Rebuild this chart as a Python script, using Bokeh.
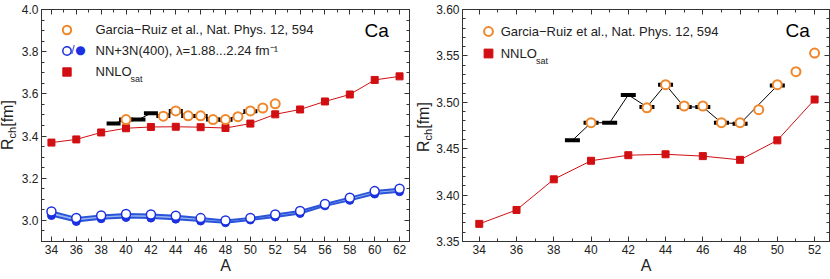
from bokeh.plotting import figure
from bokeh.models import (Range1d, LinearAxis, SingleIntervalTicker, PrintfTickFormatter,
                          CustomJSTickFormatter, Label, Legend, LegendItem, Div)
from bokeh.layouts import row
from bokeh.embed import file_html
from bokeh.resources import INLINE

# ---------------- data ----------------
A_theory = [34, 36, 38, 40, 42, 44, 46, 48, 50, 52, 54, 56, 58, 60, 62]
R_nnlosat = [3.369, 3.384, 3.417, 3.437, 3.443, 3.444, 3.442, 3.438, 3.459, 3.503,
             3.526, 3.564, 3.597, 3.666, 3.683]
R_nn3n_open = [3.042, 3.012, 3.023, 3.030, 3.028, 3.022, 3.011, 3.000, 3.012, 3.028,
               3.045, 3.078, 3.108, 3.139, 3.150]
R_nn3n_filled = [3.023, 2.995, 3.008, 3.014, 3.011, 3.006, 2.997, 2.989, 3.002, 3.016,
                 3.033, 3.069, 3.095, 3.125, 3.136]

A_exp = [40, 43, 44, 45, 46, 47, 48, 49, 50, 51, 52]
R_exp = [3.478, 3.494, 3.519, 3.496, 3.496, 3.478, 3.478, 3.492, 3.519, 3.533, 3.553]
R_exp_err = [0.001, 0.002, 0.002, 0.002, 0.002, 0.002, 0.002, 0.003, 0.003, 0.004, 0.0055]

A_bar = [39, 40, 41, 42, 43, 44, 45, 46, 47, 48, 50]
R_bar = [3.459, 3.478, 3.478, 3.508, 3.495, 3.519, 3.495, 3.495, 3.478, 3.477, 3.518]

# ---------------- style ----------------
FONT = "Liberation Sans"
ORANGE = "#f0872a"
RED = "#d10f12"
BLUE = "#1b30e0"
BLUE_LINE = "#2b55d8"
FRAME = "#333333"
TXT = "#222222"
H = 279

exp_lo = [r - e for r, e in zip(R_exp, R_exp_err)]
exp_hi = [r + e for r, e in zip(R_exp, R_exp_err)]


def style_axis(ax, show_labels=True):
    ax.axis_line_color = FRAME
    ax.major_tick_line_color = FRAME
    ax.minor_tick_line_color = FRAME
    ax.major_tick_in = 5
    ax.major_tick_out = 0
    ax.minor_tick_in = 3
    ax.minor_tick_out = 0
    if show_labels:
        ax.major_label_text_font = FONT
        ax.major_label_text_font_size = "12px"
        ax.major_label_text_color = TXT
        ax.major_label_standoff = 3
    else:
        ax.formatter = CustomJSTickFormatter(code="return ''")
        ax.major_label_text_font_size = "1px"
        ax.major_label_standoff = 0


def make_fig(width, xr, yr, bl, br, bb, bt, yint, yminor, yfmt):
    p = figure(width=width, height=H, x_range=Range1d(*xr), y_range=Range1d(*yr),
               output_backend="svg", toolbar_location=None,
               min_border_left=bl, min_border_right=br, min_border_bottom=bb,
               min_border_top=bt)
    p.xgrid.visible = False
    p.ygrid.visible = False
    p.outline_line_color = FRAME
    p.background_fill_color = "white"
    p.border_fill_color = "white"

    p.xaxis[0].ticker = SingleIntervalTicker(interval=2, num_minor_ticks=2)
    p.yaxis[0].ticker = SingleIntervalTicker(interval=yint, num_minor_ticks=yminor)
    p.yaxis[0].formatter = PrintfTickFormatter(format=yfmt)
    style_axis(p.xaxis[0])
    style_axis(p.yaxis[0])
    p.xaxis[0].axis_label = "A"
    p.xaxis[0].axis_label_text_font = FONT
    p.xaxis[0].axis_label_text_font_size = "16px"
    p.xaxis[0].axis_label_text_font_style = "normal"
    p.xaxis[0].axis_label_text_color = TXT
    p.xaxis[0].axis_label_standoff = 0

    top = LinearAxis(ticker=SingleIntervalTicker(interval=2, num_minor_ticks=2))
    style_axis(top, show_labels=False)
    p.add_layout(top, "above")
    right = LinearAxis(ticker=SingleIntervalTicker(interval=yint, num_minor_ticks=yminor))
    style_axis(right, show_labels=False)
    p.add_layout(right, "right")
    return p


def label_strip(width, left, top):
    """Narrow HTML strip holding the rotated y-axis title R_ch[fm]."""
    html = (
        f'<div style="position:relative;width:{width}px;height:{H}px;overflow:visible;">'
        f'<div style="position:absolute;left:{left}px;top:{top}px;transform-origin:0 0;'
        "transform:rotate(-90deg);white-space:nowrap;font-family:'Liberation Sans';"
        f'font-size:16px;line-height:16px;color:{TXT};">'
        'R<span style="font-size:11px;position:relative;top:3px;">ch</span>[fm]'
        '</div></div>'
    )
    return Div(text=html, width=width, height=H, margin=(0, 0, 0, 0))


def style_legend(leg, gw, standoff):
    leg.background_fill_alpha = 0
    leg.border_line_alpha = 0
    leg.padding = 0
    leg.margin = 0
    leg.spacing = 0
    leg.glyph_width = gw
    leg.glyph_height = gw
    leg.label_height = gw
    leg.label_standoff = standoff
    leg.label_text_font = FONT
    leg.label_text_font_size = "13px"
    leg.label_text_color = TXT


# ================= left panel =================
s1 = label_strip(17, 0, 150)
p1 = make_fig(401, (33.2, 62.8), (2.9, 4.0), 24, 9, 38, 6, 0.2, 4, "%.1f")

p1.varea(x=A_theory, y1=R_nn3n_filled, y2=R_nn3n_open, fill_color="#7fa2ee", fill_alpha=0.8)
p1.line(A_theory, R_nn3n_filled, line_color=BLUE_LINE, line_width=2)
p1.line(A_theory, R_nn3n_open, line_color=BLUE_LINE, line_width=2)
p1.scatter(A_theory, R_nn3n_filled, marker="circle", size=8, fill_color=BLUE,
           line_color=BLUE)
r_open1 = p1.scatter(A_theory, R_nn3n_open, marker="circle", size=9, fill_color="white",
                     line_color=BLUE, line_width=1.5)

p1.line(A_theory, R_nnlosat, line_color=RED, line_width=1)
r_sat1 = p1.scatter(A_theory, R_nnlosat, marker="square", size=7, fill_color=RED,
                    line_color=RED)

p1.line(A_bar, R_bar, line_color="black", line_width=1)
p1.scatter(A_bar, R_bar, marker="dash", size=14, line_color="black", line_width=4)
p1.segment(x0=A_exp, y0=exp_lo, x1=A_exp, y1=exp_hi, line_color="#555555", line_width=1)
r_exp1 = p1.scatter(A_exp, R_exp, marker="circle", size=9, fill_color="white",
                    line_color=ORANGE, line_width=2)

leg1 = Legend(items=[
    LegendItem(label="Garcia\u2212Ruiz et al., Nat. Phys. 12, 594", renderers=[r_exp1]),
    LegendItem(label="NN+3N(400), \u03bb=1.88...2.24 fm\u207b\u00b9", renderers=[r_open1]),
    LegendItem(label="NNLO", renderers=[r_sat1]),
], location=(14.5, 159.5))
style_legend(leg1, 21, 19)
p1.add_layout(leg1, "center")

p1.add_layout(Label(x=31.5, y=191.5, x_units="screen", y_units="screen", text="/",
                    text_font=FONT, text_font_size="12px", text_color=BLUE,
                    text_align="center", text_baseline="middle"))
p1.add_layout(Label(x=39, y=191.5, x_units="screen", y_units="screen", text="\u25cf",
                    text_font="DejaVu Sans", text_font_size="12px", text_color=BLUE,
                    text_align="center", text_baseline="middle"))
p1.add_layout(Label(x=89, y=163, x_units="screen", y_units="screen", text="sat",
                    text_font=FONT, text_font_size="9px", text_color=TXT,
                    text_baseline="alphabetic"))
p1.add_layout(Label(x=323, y=211.5, x_units="screen", y_units="screen", text="Ca",
                    text_font=FONT, text_font_size="19px", text_color="black",
                    text_baseline="alphabetic"))

# ================= right panel =================
s2 = label_strip(15, -2, 152)
p2 = make_fig(397, (33.1, 52.8), (3.35, 3.60), 28, 1, 35, 9, 0.05, 5, "%.2f")

p2.line(A_theory[:10], R_nnlosat[:10], line_color=RED, line_width=1)
r_sat2 = p2.scatter(A_theory[:10], R_nnlosat[:10], marker="square", size=7, fill_color=RED,
                    line_color=RED)
p2.line(A_bar, R_bar, line_color="black", line_width=1)
p2.scatter(A_bar, R_bar, marker="dash", size=15, line_color="black", line_width=4)
p2.segment(x0=A_exp, y0=exp_lo, x1=A_exp, y1=exp_hi, line_color="#555555", line_width=1)
r_exp2 = p2.scatter(A_exp, R_exp, marker="circle", size=9, fill_color="white",
                    line_color=ORANGE, line_width=2)

leg2 = Legend(items=[
    LegendItem(label="Garcia\u2212Ruiz et al., Nat. Phys. 12, 594", renderers=[r_exp2]),
    LegendItem(label="NNLO", renderers=[r_sat2]),
], location=(14.7, 177))
style_legend(leg2, 22, 2)
p2.add_layout(leg2, "center")

p2.add_layout(Label(x=73.5, y=180.5, x_units="screen", y_units="screen", text="sat",
                    text_font=FONT, text_font_size="9px", text_color=TXT,
                    text_baseline="alphabetic"))
p2.add_layout(Label(x=323, y=211, x_units="screen", y_units="screen", text="Ca",
                    text_font=FONT, text_font_size="19px", text_color="black",
                    text_baseline="alphabetic"))

layout = row(s1, p1, s2, p2)
open("out.html", "w").write(file_html(layout, INLINE))
